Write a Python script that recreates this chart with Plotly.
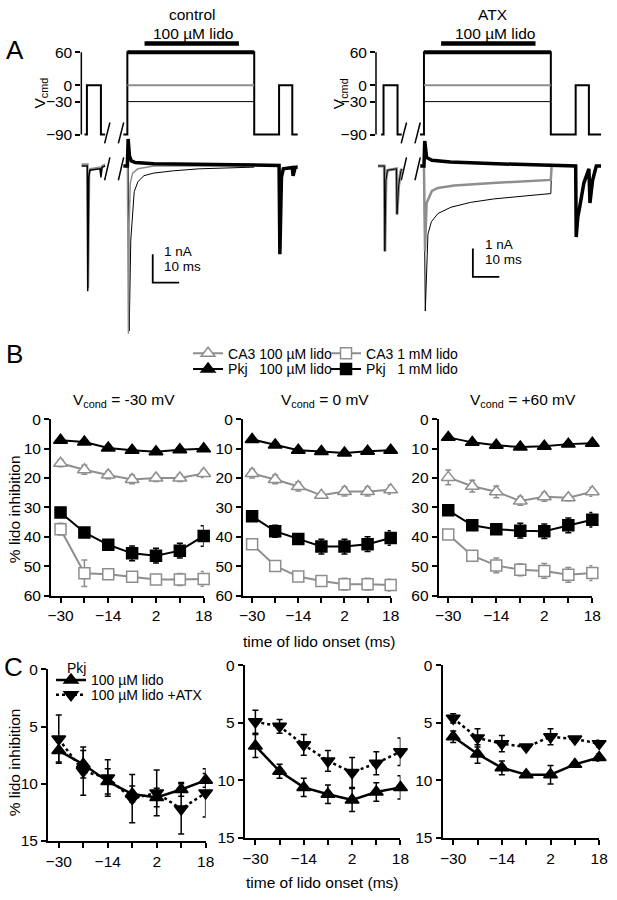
import plotly.graph_objects as go

W, H = 617, 900
FONT = "Liberation Sans, Arial, Helvetica, sans-serif"
GREY = "#8e8e8e"

### DATA
# panel A - command protocol (ms, mV), same for control and ATX
vcmd_t = [-16.2, -15.3, -15.3, -10.0, -10.0, -8.4, None, -1.5, 0, 0, 48, 48, 57.4, 57.4, 62.4, 62.4, 67]
vcmd_v = [-90, -90, 0, 0, -90, -90, None, -90, -90, 60, 60, -90, -90, 0, 0, -90, -90]
step_t = [0, 48]
step_levels = [60, 0, -30]
lido_bar_t = [6.5, 42.2]
lido_bar_v = [76, 76]
brk_t = [-8.6, -6.6, None, -3.4, -1.4]
brk_v = [-106, -68, None, -106, -68]
brk_i = [-0.5, 0.3, None, -0.5, 0.3]

# panel A - currents (ms, nA), control
ctl_pre_t = [-17.4, -15.2, -15.0, -14.6, -14.2, -10.3, -10.0, -9.6, -8.4]
ctl_pre_i = [0.0, 0.0, -4.4, -0.4, -0.15, -0.1, -0.4, -0.05, 0.0]
ctl_pre2_t = [-17.4, -15.0, -14.8, -14.4, -14.0, -10.3, -10.0, -9.6, -8.4]
ctl_pre2_i = [0.06, 0.06, -4.3, -0.3, -0.1, -0.05, -0.3, 0.0, 0.06]
ctl_p60_t = [-1.5, 0.0, 0.3, 0.8, 1.5, 3, 10, 25, 48, 57.4, 57.7, 58.3, 59.0, 62.4, 62.7, 63.5, 67]
ctl_p60_i = [0.0, 0.0, 0.95, 0.35, 0.18, 0.12, 0.08, 0.06, 0.04, 0.02, -3.1, -0.4, -0.1, -0.05, -0.35, -0.05, 0.0]
ctl_0_t = [0.0, 0.4, 0.7, 1.1, 2.0, 4.0, 10, 48]
ctl_0_i = [0.0, -5.9, -2.0, -0.6, -0.25, -0.1, 0.0, 0.0]
ctl_m30_t = [0.3, 0.7, 1.3, 2.1, 2.6, 4.0, 6.3, 10, 17.4, 27, 40, 48]
ctl_m30_i = [0.0, -5.8, -2.6, -1.5, -0.9, -0.55, -0.34, -0.25, -0.17, -0.1, -0.07, -0.04]
ctl_scale_t = [9.6, 9.6, 19.6]
ctl_scale_i = [-3.1, -4.1, -4.1]

# panel A - currents (ms, nA), ATX
atx_pre_t = [-17.4, -15.0, -14.8, -14.4, -13.8, -10.4, -10.2, -9.6, -8.8, -8.4]
atx_pre_i = [0.0, 0.0, -3.0, -0.5, -0.15, -0.1, -1.7, -0.7, -0.2, -0.1]
atx_p60_t = [-1.4, 0.0, 0.3, 1.0, 3.0, 10, 30, 48, 57.4, 57.6, 58.2, 59.0, 60.5, 62.4, 62.8, 63.8, 65.2, 67]
atx_p60_i = [0.0, 0.0, 0.88, 0.3, 0.2, 0.14, 0.07, 0.02, 0.0, -2.5, -1.8, -1.4, -0.6, -0.1, -1.3, -0.5, 0.0, 0.0]
atx_0_t = [0.0, 0.4, 1.0, 3.0, 5.2, 11.5, 26, 41, 48, 48.3]
atx_0_i = [0.0, -3.0, -1.3, -0.88, -0.77, -0.69, -0.6, -0.52, -0.49, 0.0]
atx_m30_t = [0.0, 0.5, 1.5, 2.8, 5.3, 10.2, 17.6, 26.3, 38.6, 48, 48.3]
atx_m30_i = [0.0, -5.1, -2.4, -1.96, -1.67, -1.45, -1.28, -1.16, -1.05, -0.97, 0.0]
atx_scale_t = [18.5, 18.5, 28.5]
atx_scale_i = [-2.9, -3.9, -3.9]

# panels B and C
onset = [-30, -22, -14, -6, 2, 10, 18]
onset_major = [-30, -14, 2, 18]
onset_minor = [-22, -6, 10]
cond_titles = ["V<sub>cond</sub> = -30 mV", "V<sub>cond</sub> = 0 mV", "V<sub>cond</sub> = +60 mV"]

ca3_100 = [[15.0, 17.2, 19.0, 20.5, 20.0, 20.0, 18.5],
           [18.5, 20.5, 22.9, 25.9, 24.6, 24.6, 24.0],
           [19.8, 22.8, 24.7, 27.8, 26.4, 26.7, 24.7]]
ca3_100_err = [[1.2, 1.5, 1.3, 1.5, 1.2, 1.2, 1.3],
               [1.5, 1.5, 1.5, 1.0, 1.5, 1.5, 1.5],
               [2.5, 2.0, 2.0, 1.5, 1.5, 1.0, 1.5]]
pkj_100 = [[7.2, 7.8, 9.8, 10.6, 11.1, 10.4, 10.1],
           [6.9, 8.8, 10.6, 11.0, 11.5, 10.9, 10.6],
           [6.2, 7.9, 8.9, 9.5, 9.2, 8.5, 8.2]]
pkj_100_err = [[0.6, 0.6, 0.6, 0.6, 0.6, 0.6, 0.6],
               [0.6, 0.6, 0.6, 0.6, 0.6, 0.6, 0.6],
               [0.5, 0.5, 0.5, 0.5, 0.5, 0.5, 0.5]]
ca3_1mm = [[37.4, 52.4, 52.7, 53.6, 54.5, 54.5, 54.3],
           [42.5, 49.9, 53.5, 55.0, 56.1, 56.1, 56.4],
           [39.2, 46.4, 49.7, 51.2, 51.6, 52.9, 52.3]]
ca3_1mm_err = [[2.0, 4.5, 1.5, 1.5, 1.5, 2.0, 2.5],
               [1.0, 1.0, 1.0, 1.0, 2.0, 2.0, 2.0],
               [1.0, 1.5, 2.5, 2.0, 2.5, 2.5, 2.5]]
pkj_1mm = [[31.7, 38.5, 42.7, 45.6, 46.4, 44.7, 39.7],
           [33.0, 38.1, 40.7, 43.3, 43.3, 42.5, 40.4],
           [31.0, 36.1, 37.4, 37.9, 38.1, 36.1, 34.2]]
pkj_1mm_err = [[1.5, 1.5, 1.5, 2.5, 2.5, 2.5, 3.5],
               [1.5, 2.0, 1.5, 2.5, 2.5, 2.5, 2.5],
               [1.5, 1.5, 1.5, 2.5, 2.5, 2.5, 2.5]]

c_pkj = [[7.1, 8.3, 9.8, 10.9, 11.2, 10.5, 9.7],
         [7.0, 9.2, 10.6, 11.2, 11.7, 11.0, 10.6],
         [6.2, 7.7, 8.9, 9.5, 9.5, 8.6, 8.0]]
c_pkj_err = [[1.0, 1.2, 1.1, 0.7, 0.8, 0.6, 0.6],
             [1.0, 0.6, 0.8, 0.8, 1.0, 0.8, 1.0],
             [0.5, 0.8, 0.6, 0.2, 0.8, 0.2, 0.3]]
c_atx = [[6.1, 8.9, 9.5, 11.3, 10.8, 12.2, 10.8],
         [4.9, 5.3, 6.9, 8.3, 9.3, 8.5, 7.5],
         [4.6, 6.3, 6.8, 7.1, 6.2, 6.4, 6.8]]
c_atx_err = [[2.1, 2.1, 1.6, 2.1, 2.0, 2.2, 2.1],
             [1.0, 0.6, 0.9, 0.9, 1.3, 1.0, 1.2],
             [0.4, 0.8, 0.7, 0.2, 0.7, 0.2, 0.3]]


### HELPERS
def dom_x(left, right):
    return [left / W, right / W]


def dom_y(top, bottom):
    return [1 - bottom / H, 1 - top / H]


fig = go.Figure()


def line(x, y, xa, ya, color="black", width=1.5, dash=None):
    fig.add_trace(go.Scatter(x=x, y=y, xaxis=xa, yaxis=ya, mode="lines", connectgaps=False,
                             line=dict(color=color, width=width, dash=dash),
                             showlegend=False, hoverinfo="skip"))


def series(x, y, err, xa, ya, name, color, symbol, fill, size, dash=None, width=2,
           legend="legend", show=False):
    fig.add_trace(go.Scatter(
        x=x, y=y, xaxis=xa, yaxis=ya, mode="lines+markers", name=name,
        line=dict(color=color, width=width, dash=dash),
        marker=dict(symbol=symbol, size=size, color=fill, line=dict(color=color, width=1.5)),
        error_y=dict(type="data", array=err, color=color, thickness=1.5, width=3),
        cliponaxis=False, showlegend=show, legend=legend))


### PANEL A
sides = [
    dict(xa="x", yv="y", yi="y2",
         pre=[(ctl_pre2_t, ctl_pre2_i, GREY, 2), (ctl_pre_t, ctl_pre_i, "black", 1.5)],
         main=[(ctl_m30_t, ctl_m30_i, "black", 1), (ctl_0_t, ctl_0_i, GREY, 1.5),
               (ctl_p60_t, ctl_p60_i, "black", 3.5)],
         scale=(ctl_scale_t, ctl_scale_i)),
    dict(xa="x2", yv="y3", yi="y4",
         pre=[(atx_pre_t, atx_pre_i, GREY, 3), (atx_pre_t, atx_pre_i, "black", 1)],
         main=[(atx_m30_t, atx_m30_i, "black", 1), (atx_0_t, atx_0_i, GREY, 2.5),
               (atx_p60_t, atx_p60_i, "black", 3.5)],
         scale=(atx_scale_t, atx_scale_i)),
]
for s in sides:
    line(vcmd_t, vcmd_v, s["xa"], s["yv"], width=2)
    for lvl, col, w in zip(step_levels, ["black", GREY, "black"], [4, 2, 1]):
        line(step_t, [lvl, lvl], s["xa"], s["yv"], color=col, width=w)
    line(lido_bar_t, lido_bar_v, s["xa"], s["yv"], width=4.5)
    line(brk_t, brk_v, s["xa"], s["yv"], width=1.5)
    line(brk_t, brk_i, s["xa"], s["yi"], width=1.5)
    for t, i, col, w in s["pre"] + s["main"]:
        line(t, i, s["xa"], s["yi"], color=col, width=w)
    line(s["scale"][0], s["scale"][1], s["xa"], s["yi"], width=1.8)

### PANEL B
for k in range(3):
    xa, ya = "x%d" % (3 + k), "y%d" % (5 + k)
    first = k == 0
    series(onset, ca3_100[k], ca3_100_err[k], xa, ya, "CA3 100 µM lido", GREY, "triangle-up", "white", 12,
           legend="legend", show=first)
    series(onset, ca3_1mm[k], ca3_1mm_err[k], xa, ya, "CA3 1 mM lido", GREY, "square", "white", 11,
           legend="legend", show=first)
    series(onset, pkj_100[k], pkj_100_err[k], xa, ya, "Pkj\u00a0\u00a0 100 µM lido", "black", "triangle-up",
           "black", 12, legend="legend2", show=first)
    series(onset, pkj_1mm[k], pkj_1mm_err[k], xa, ya, "Pkj\u00a0\u00a0 1 mM lido", "black", "square",
           "black", 11, legend="legend2", show=first)

### PANEL C
for k in range(3):
    xa, ya = "x%d" % (6 + k), "y%d" % (8 + k)
    first = k == 0
    series(onset, c_pkj[k], c_pkj_err[k], xa, ya, "100 µM lido", "black", "triangle-up", "black", 12,
           width=2.5, legend="legend3", show=first)
    series(onset, c_atx[k], c_atx_err[k], xa, ya, "100 µM lido +ATX", "black", "triangle-down", "black", 12,
           dash="dot", width=2.5, legend="legend4", show=first)

### AXES
tickfont = dict(family=FONT, size=15.5, color="black")
hidden = dict(visible=False, showgrid=False, zeroline=False)
lay = {}

# A: voltage / current axes
lay["xaxis"] = dict(hidden, domain=dom_x(79, 300), range=[-17.41, 64.44], anchor="y")
lay["xaxis2"] = dict(hidden, domain=dom_x(380, 617), range=[-18.15, 69.63], anchor="y3")
vaxis = dict(range=[-111.43, 88.57], domain=dom_y(28, 140), tickvals=[60, 0, -30, -90],
             ticks="outside", ticklen=5, tickwidth=1.5, tickcolor="black", showline=False,
             showgrid=False, zeroline=False, tickfont=tickfont)
iaxis = dict(hidden, range=[-6.207, 1.207], domain=dom_y(125, 340))
lay["yaxis"] = dict(vaxis, anchor="x")
lay["yaxis2"] = dict(iaxis, anchor="x")
lay["yaxis3"] = dict(vaxis, anchor="x2")
lay["yaxis4"] = dict(iaxis, anchor="x2")

common = dict(showline=True, linewidth=2, linecolor="black", ticks="outside", ticklen=5, tickwidth=2,
              tickcolor="black", showgrid=False, zeroline=False, tickfont=tickfont,
              ticklabeloverflow="allow")
xminor = dict(tickvals=onset_minor, ticks="outside", ticklen=5, tickwidth=2, tickcolor="black", showgrid=False)
b_x = [(48, 204), (244, 395), (444, 601)]
for k in range(3):
    lay["xaxis%d" % (3 + k)] = dict(common, domain=dom_x(*b_x[k]), range=[-33.2, 18], anchor="y%d" % (5 + k),
                                    tickvals=onset_major, minor=xminor)
    lay["yaxis%d" % (5 + k)] = dict(common, domain=dom_y(418, 598), range=[60, 0], anchor="x%d" % (3 + k),
                                    tickvals=[0, 10, 20, 30, 40, 50, 60])
c_x = [(45, 206), (246, 405), (448, 608)]
c_y = [(673, 848), (669, 845), (669, 845)]
for k in range(3):
    lay["xaxis%d" % (6 + k)] = dict(common, domain=dom_x(*c_x[k]), range=[-33.5, 18], anchor="y%d" % (8 + k),
                                    tickvals=onset_major, minor=xminor)
    lay["yaxis%d" % (8 + k)] = dict(common, domain=dom_y(*c_y[k]), range=[15, 0], anchor="x%d" % (6 + k),
                                    tickvals=[0, 5, 10, 15])


### TEXT
def note(text, x, y, size=15.5, angle=0, xanchor="center"):
    return dict(text=text, x=x / W, y=1 - y / H, xref="paper", yref="paper", showarrow=False,
                xanchor=xanchor, yanchor="middle", textangle=angle,
                font=dict(family=FONT, size=size, color="black"))


notes = [
    note("A", 11, 42, size=26), note("B", 11, 352, size=26), note("C", 10, 671, size=26),
    note("control", 193, 6), note("100 µM lido", 193, 25),
    note("ATX", 500, 6), note("100 µM lido", 502, 25),
    note("V<sub>cmd</sub>", 37, 86, angle=-90), note("V<sub>cmd</sub>", 343, 86, angle=-90),
    note("1 nA", 161, 247, size=13.5, xanchor="left"), note("10 ms", 161, 262, size=13.5, xanchor="left"),
    note("1 nA", 489, 240, size=13.5, xanchor="left"), note("10 ms", 489, 255, size=13.5, xanchor="left"),
    note(cond_titles[0], 123, 399), note(cond_titles[1], 328, 399), note(cond_titles[2], 530, 399),
    note("time of lido onset (ms)", 322, 645), note("time of lido onset (ms)", 325, 890),
    note("% lido inhibition", 11, 510, angle=-90), note("% lido inhibition", 11, 768, angle=-90),
    note("Pkj", 62, 672, size=14, xanchor="left"),
]

shapes = []
for xa, ya in [("x", "y"), ("x2", "y3")]:
    shapes.append(dict(type="line", xref=xa + " domain", yref=ya, x0=0, x1=0, y0=-90, y1=60,
                       line=dict(color="black", width=1.5)))

legfont = dict(family=FONT, size=14, color="black")
legbase = dict(xanchor="left", yanchor="top", font=legfont, itemwidth=30, bgcolor="rgba(0,0,0,0)",
               traceorder="normal", tracegroupgap=0)
fig.update_layout(
    width=W, height=H, margin=dict(l=0, r=0, t=0, b=0),
    paper_bgcolor="white", plot_bgcolor="rgba(0,0,0,0)",
    font=dict(family=FONT, size=15.5, color="black"),
    annotations=notes, shapes=shapes,
    legend=dict(legbase, x=188 / W, y=1 - 335 / H, orientation="h", entrywidth=93),
    legend2=dict(legbase, x=188 / W, y=1 - 351 / H, orientation="h", entrywidth=93),
    legend3=dict(legbase, x=48 / W, y=1 - 668 / H, orientation="v"),
    legend4=dict(legbase, x=48 / W, y=1 - 683 / H, orientation="v"),
    **lay,
)

fig.write_html("out.html", config={"displayModeBar": False},
               post_script="document.body.style.margin = '0px';")
